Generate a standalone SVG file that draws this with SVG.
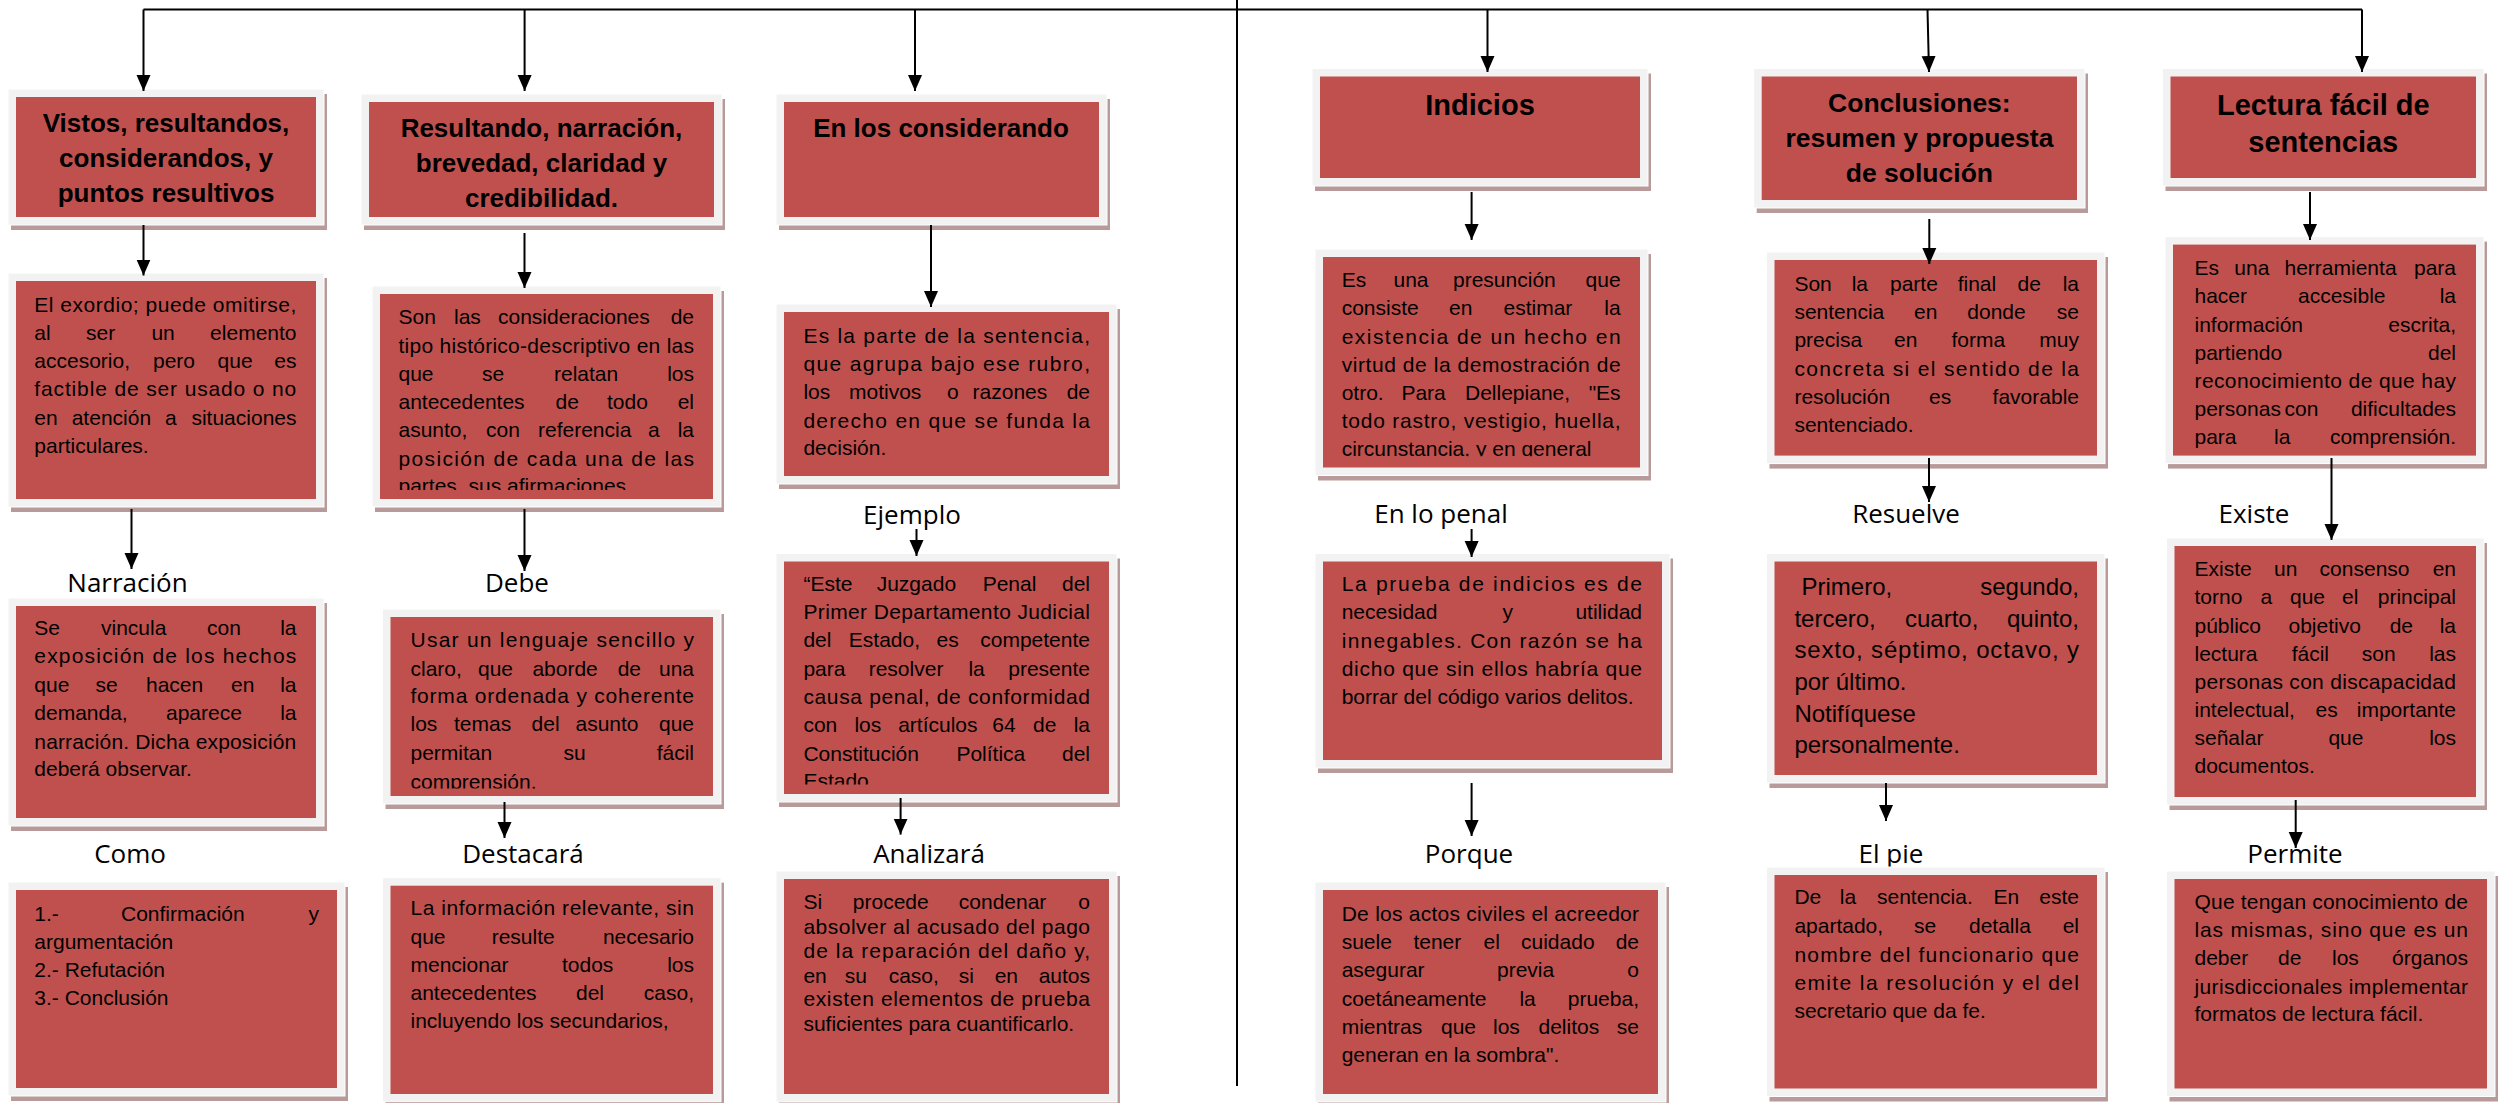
<svg xmlns="http://www.w3.org/2000/svg" width="2500" height="1103" viewBox="0 0 2500 1103">
<defs>
<style>
.sh{fill:#b99a9a}
.fr{fill:#f2f2f2;stroke:#ffffff;stroke-width:1}
.rd{fill:#c0504d}
.t{font-family:"Liberation Sans",Arial,sans-serif;font-size:21px;fill:#000}
.t24{font-family:"Liberation Sans",Arial,sans-serif;font-size:24px;fill:#000}
.e{text-anchor:end}
.h{font-family:"Liberation Sans",Arial,sans-serif;font-weight:bold;font-size:26px;fill:#000;text-anchor:middle}
.h29{font-family:"Liberation Sans",Arial,sans-serif;font-weight:bold;font-size:29px;fill:#000;text-anchor:middle}
.lab{font-family:"Open Sans","Liberation Sans",sans-serif;font-size:26px;fill:#000;text-anchor:middle}
.ln{stroke:#000;stroke-width:2;fill:none}
</style>
<marker id="ar" markerUnits="userSpaceOnUse" markerWidth="16" markerHeight="16" viewBox="0 -8 16 16" refX="16" refY="0" orient="auto">
<path d="M0,-7 L16,0 L0,7 z" fill="#000"/>
</marker>
<clipPath id="cB2"><rect x="370" y="280" width="350" height="210"/></clipPath>
<clipPath id="cC2"><rect x="380" y="610" width="340" height="178.5"/></clipPath>
<clipPath id="cC3"><rect x="780" y="555" width="340" height="229.6"/></clipPath>
<clipPath id="cS1"><rect x="1320" y="250" width="330" height="206.3"/></clipPath>
</defs>

<g id="labels">
<text class="lab" x="127.5" y="592">Narración</text>
<text class="lab" x="517" y="592">Debe</text>
<text class="lab" x="912" y="524">Ejemplo</text>
<text class="lab" x="130" y="863">Como</text>
<text class="lab" x="523" y="863">Destacará</text>
<text class="lab" x="929" y="863">Analizará</text>
<text class="lab" x="1441" y="523">En lo penal</text>
<text class="lab" x="1906" y="523">Resuelve</text>
<text class="lab" x="2254" y="523">Existe</text>
<text class="lab" x="1469" y="863">Porque</text>
<text class="lab" x="1891" y="863">El pie</text>
<text class="lab" x="2295" y="863">Permite</text>
</g>

<g id="nodeA1">
<rect class="sh" x="11" y="94" width="316" height="136"/>
<rect class="fr" x="8" y="89" width="316" height="136"/>
<rect class="rd" x="16" y="97" width="300" height="120"/>
<text class="h" x="166" y="132">Vistos, resultandos,</text>
<text class="h" x="166" y="167">considerandos, y</text>
<text class="h" x="166" y="202">puntos resultivos</text>
</g>

<g id="nodeA2">
<rect class="sh" x="364" y="99" width="361" height="131"/>
<rect class="fr" x="361" y="94" width="361" height="131"/>
<rect class="rd" x="369" y="102" width="345" height="115"/>
<text class="h" x="541.5" y="137">Resultando, narración,</text>
<text class="h" x="541.5" y="172">brevedad, claridad y</text>
<text class="h" x="541.5" y="207">credibilidad.</text>
</g>

<g id="nodeA3">
<rect class="sh" x="779" y="99" width="331" height="131"/>
<rect class="fr" x="776" y="94" width="331" height="131"/>
<rect class="rd" x="784" y="102" width="315" height="115"/>
<text class="h" x="941" y="137">En los  considerando</text>
</g>

<g id="nodeB1">
<rect class="sh" x="11" y="278" width="316" height="234"/>
<rect class="fr" x="8" y="273" width="316" height="234"/>
<rect class="rd" x="16" y="281" width="300" height="218"/>
<text class="t" x="34.3" y="312" textLength="262" lengthAdjust="spacing">El exordio;  puede omitirse,</text>
<text class="t" y="340"><tspan x="34.3">al</tspan><tspan x="86">ser</tspan><tspan x="151.4">un</tspan><tspan x="296.5" class="e">elemento</tspan></text>
<text class="t" y="368"><tspan x="34.3">accesorio,</tspan><tspan x="153">pero</tspan><tspan x="217.6">que</tspan><tspan x="296.5" class="e">es</tspan></text>
<text class="t" x="34.3" y="396" textLength="262" lengthAdjust="spacing">factible de ser usado o no</text>
<text class="t" y="425"><tspan x="34.3">en</tspan><tspan x="71.7">atención</tspan><tspan x="165">a</tspan><tspan x="296.5" class="e">situaciones</tspan></text>
<text class="t" x="34.3" y="453">particulares.</text>
</g>

<g id="nodeB2">
<rect class="sh" x="375" y="291" width="349" height="221"/>
<rect class="fr" x="372" y="286" width="349" height="221"/>
<rect class="rd" x="380" y="294" width="333" height="205"/>
<g clip-path="url(#cB2)">
<text class="t" y="324"><tspan x="398.5">Son</tspan><tspan x="454">las</tspan><tspan x="498">consideraciones</tspan><tspan x="694" class="e">de</tspan></text>
<text class="t" x="398.5" y="353" textLength="295.5" lengthAdjust="spacing">tipo histórico-descriptivo en las</text>
<text class="t" y="381"><tspan x="398.5">que</tspan><tspan x="482">se</tspan><tspan x="554">relatan</tspan><tspan x="694" class="e">los</tspan></text>
<text class="t" y="409"><tspan x="398.5">antecedentes</tspan><tspan x="555.5">de</tspan><tspan x="607">todo</tspan><tspan x="694" class="e">el</tspan></text>
<text class="t" y="437"><tspan x="398.5">asunto,</tspan><tspan x="486">con</tspan><tspan x="538">referencia</tspan><tspan x="648">a</tspan><tspan x="694" class="e">la</tspan></text>
<text class="t" x="398.5" y="466" textLength="295.5" lengthAdjust="spacing">posición de cada una de las</text>
<text class="t" x="398.5" y="493">partes, sus afirmaciones</text>
</g>
</g>

<g id="nodeB3">
<rect class="sh" x="779" y="309" width="341" height="180"/>
<rect class="fr" x="776" y="304" width="341" height="180"/>
<rect class="rd" x="784" y="312" width="325" height="164"/>
<text class="t" x="803.4" y="343" textLength="286.6" lengthAdjust="spacing">Es la parte de la sentencia,</text>
<text class="t" x="803.4" y="371" textLength="286.6" lengthAdjust="spacing">que agrupa bajo ese rubro,</text>
<text class="t" y="399"><tspan x="803.4">los</tspan><tspan x="849">motivos</tspan><tspan x="947">o</tspan><tspan x="972.6">razones</tspan><tspan x="1090" class="e">de</tspan></text>
<text class="t" x="803.4" y="427.5" textLength="286.6" lengthAdjust="spacing">derecho en que se funda la</text>
<text class="t" x="803.4" y="454.5">decisión.</text>
</g>

<g id="nodeC1">
<rect class="sh" x="11" y="603" width="316" height="228"/>
<rect class="fr" x="8" y="598" width="316" height="228"/>
<rect class="rd" x="16" y="606" width="300" height="212"/>
<text class="t" y="635"><tspan x="34.3">Se</tspan><tspan x="101">vincula</tspan><tspan x="207">con</tspan><tspan x="296.5" class="e">la</tspan></text>
<text class="t" x="34.3" y="663" textLength="262" lengthAdjust="spacing">exposición de los hechos</text>
<text class="t" y="691.6"><tspan x="34.3">que</tspan><tspan x="95.6">se</tspan><tspan x="146">hacen</tspan><tspan x="231">en</tspan><tspan x="296.5" class="e">la</tspan></text>
<text class="t" y="719.7"><tspan x="34.3">demanda,</tspan><tspan x="166">aparece</tspan><tspan x="296.5" class="e">la</tspan></text>
<text class="t" x="34.3" y="748.5" textLength="262" lengthAdjust="spacing">narración. Dicha exposición</text>
<text class="t" x="34.3" y="776">deberá observar.</text>
</g>

<g id="nodeC2">
<rect class="sh" x="385.5" y="614" width="338.5" height="195"/>
<rect class="fr" x="382.5" y="609" width="338.5" height="195"/>
<rect class="rd" x="390.5" y="617" width="322.5" height="179"/>
<g clip-path="url(#cC2)">
<text class="t" x="410.5" y="647" textLength="283.5" lengthAdjust="spacing">Usar un lenguaje sencillo y</text>
<text class="t" y="675.5"><tspan x="410.5">claro,</tspan><tspan x="478">que</tspan><tspan x="532.4">aborde</tspan><tspan x="617.7">de</tspan><tspan x="694" class="e">una</tspan></text>
<text class="t" x="410.5" y="703" textLength="283.5" lengthAdjust="spacing">forma ordenada y coherente</text>
<text class="t" y="731"><tspan x="410.5">los</tspan><tspan x="454">temas</tspan><tspan x="531.6">del</tspan><tspan x="575.5">asunto</tspan><tspan x="694" class="e">que</tspan></text>
<text class="t" y="760"><tspan x="410.5">permitan</tspan><tspan x="563.5">su</tspan><tspan x="694" class="e">fácil</tspan></text>
<text class="t" x="410.5" y="789">comprensión.</text>
</g>
</g>

<g id="nodeC3">
<rect class="sh" x="779" y="558.5" width="341" height="248.5"/>
<rect class="fr" x="776" y="553.5" width="341" height="248.5"/>
<rect class="rd" x="784" y="561.5" width="325" height="232.5"/>
<g clip-path="url(#cC3)">
<text class="t" y="591"><tspan x="803.4">“Este</tspan><tspan x="876.7">Juzgado</tspan><tspan x="982.7">Penal</tspan><tspan x="1090" class="e">del</tspan></text>
<text class="t" x="803.4" y="618.5" textLength="286.6" lengthAdjust="spacing">Primer Departamento Judicial</text>
<text class="t" y="647"><tspan x="803.4">del</tspan><tspan x="848.8">Estado,</tspan><tspan x="936.5">es</tspan><tspan x="1090" class="e">competente</tspan></text>
<text class="t" y="676"><tspan x="803.4">para</tspan><tspan x="868.7">resolver</tspan><tspan x="968.4">la</tspan><tspan x="1090" class="e">presente</tspan></text>
<text class="t" x="803.4" y="704" textLength="286.6" lengthAdjust="spacing">causa penal, de conformidad</text>
<text class="t" y="732"><tspan x="803.4">con</tspan><tspan x="854.4">los</tspan><tspan x="898.2">artículos</tspan><tspan x="992.3">64</tspan><tspan x="1033">de</tspan><tspan x="1090" class="e">la</tspan></text>
<text class="t" y="761"><tspan x="803.4">Constitución</tspan><tspan x="956.4">Política</tspan><tspan x="1090" class="e">del</tspan></text>
<text class="t" x="803.4" y="788">Estado</text>
</g>
</g>

<g id="nodeD1">
<rect class="sh" x="11" y="887" width="337" height="214"/>
<rect class="fr" x="8" y="882" width="337" height="214"/>
<rect class="rd" x="16" y="890" width="321" height="198"/>
<text class="t" y="920.5"><tspan x="34.3">1.-</tspan><tspan x="121">Confirmación</tspan><tspan x="319" class="e">y</tspan></text>
<text class="t" x="34.3" y="948.5">argumentación</text>
<text class="t" x="34.3" y="977">2.- Refutación</text>
<text class="t" x="34.3" y="1005">3.- Conclusión</text>
</g>

<g id="nodeD2">
<rect class="sh" x="385.5" y="882.7" width="338.5" height="224"/>
<rect class="fr" x="382.5" y="877.7" width="338.5" height="224"/>
<rect class="rd" x="390.5" y="885.7" width="322.5" height="208.3"/>
<text class="t" x="410.5" y="915" textLength="283.5" lengthAdjust="spacing">La información relevante, sin</text>
<text class="t" y="943.5"><tspan x="410.5">que</tspan><tspan x="491.7">resulte</tspan><tspan x="694" class="e">necesario</tspan></text>
<text class="t" y="972"><tspan x="410.5">mencionar</tspan><tspan x="562">todos</tspan><tspan x="694" class="e">los</tspan></text>
<text class="t" y="1000"><tspan x="410.5">antecedentes</tspan><tspan x="576">del</tspan><tspan x="694" class="e">caso,</tspan></text>
<text class="t" x="410.5" y="1028">incluyendo los secundarios,</text>
</g>

<g id="nodeD3">
<rect class="sh" x="779" y="876" width="341" height="231"/>
<rect class="fr" x="776" y="871" width="341" height="231"/>
<rect class="rd" x="784" y="879" width="325" height="215"/>
<text class="t" y="909"><tspan x="803.4">Si</tspan><tspan x="852.8">procede</tspan><tspan x="958.8">condenar</tspan><tspan x="1090" class="e">o</tspan></text>
<text class="t" x="803.4" y="934" textLength="286.6" lengthAdjust="spacing">absolver al acusado del pago</text>
<text class="t" x="803.4" y="958" textLength="286.6" lengthAdjust="spacing">de la reparación del daño y,</text>
<text class="t" y="983"><tspan x="803.4">en</tspan><tspan x="844.8">su</tspan><tspan x="888.7">caso,</tspan><tspan x="958.8">si</tspan><tspan x="994.7">en</tspan><tspan x="1090" class="e">autos</tspan></text>
<text class="t" x="803.4" y="1006" textLength="286.6" lengthAdjust="spacing">existen elementos de prueba</text>
<text class="t" x="803.4" y="1031">suficientes para cuantificarlo.</text>
</g>

<g id="nodeR1">
<rect class="sh" x="1315" y="73.5" width="336" height="117.5"/>
<rect class="fr" x="1312" y="68.5" width="336" height="117.5"/>
<rect class="rd" x="1320" y="76.5" width="320" height="101.5"/>
<text class="h29" x="1480" y="115">Indicios</text>
</g>

<g id="nodeR2">
<rect class="sh" x="1756.7" y="73.5" width="331.3" height="139.5"/>
<rect class="fr" x="1753.7" y="68.5" width="331.3" height="139.5"/>
<rect class="rd" x="1761.7" y="76.5" width="315.3" height="123.5"/>
<text class="h" x="1919.4" y="112" style="font-size:26.5px">Conclusiones:</text>
<text class="h" x="1919.4" y="147" style="font-size:26.5px">resumen y propuesta</text>
<text class="h" x="1919.4" y="182" style="font-size:26.5px">de solución</text>
</g>

<g id="nodeR3">
<rect class="sh" x="2165.5" y="73.5" width="321.5" height="117.5"/>
<rect class="fr" x="2162.5" y="68.5" width="321.5" height="117.5"/>
<rect class="rd" x="2170.5" y="76.5" width="305.5" height="101.5"/>
<text class="h29" x="2323.3" y="115">Lectura fácil de</text>
<text class="h29" x="2323.3" y="152">sentencias</text>
</g>

<g id="nodeS1">
<rect class="sh" x="1318" y="254" width="333" height="226.5"/>
<rect class="fr" x="1315" y="249" width="333" height="226.5"/>
<rect class="rd" x="1323" y="257" width="317" height="210.5"/>
<g clip-path="url(#cS1)">
<text class="t" y="287"><tspan x="1341.7">Es</tspan><tspan x="1393.5">una</tspan><tspan x="1453">presunción</tspan><tspan x="1620.6" class="e">que</tspan></text>
<text class="t" y="315"><tspan x="1341.7">consiste</tspan><tspan x="1449">en</tspan><tspan x="1503.5">estimar</tspan><tspan x="1620.6" class="e">la</tspan></text>
<text class="t" x="1341.7" y="344" textLength="278.9" lengthAdjust="spacing">existencia de un hecho en</text>
<text class="t" x="1341.7" y="372" textLength="278.9" lengthAdjust="spacing">virtud de la demostración de</text>
<text class="t" y="400"><tspan x="1341.7">otro.</tspan><tspan x="1401.4">Para</tspan><tspan x="1465">Dellepiane,</tspan><tspan x="1620.6" class="e">"Es</tspan></text>
<text class="t" x="1341.7" y="428" textLength="278.9" lengthAdjust="spacing">todo rastro, vestigio, huella,</text>
<text class="t" x="1341.7" y="456">circunstancia, y en general</text>
</g>
</g>

<g id="nodeS2">
<rect class="sh" x="1769.5" y="257" width="338.5" height="211.6"/>
<rect class="fr" x="1766.5" y="252" width="338.5" height="211.6"/>
<rect class="rd" x="1774.5" y="260" width="322.5" height="195.6"/>
<text class="t" y="290.6"><tspan x="1794.4">Son</tspan><tspan x="1851.7">la</tspan><tspan x="1890">parte</tspan><tspan x="1957.7">final</tspan><tspan x="2017.5">de</tspan><tspan x="2079" class="e">la</tspan></text>
<text class="t" y="318.7"><tspan x="1794.4">sentencia</tspan><tspan x="1914">en</tspan><tspan x="1967.3">donde</tspan><tspan x="2079" class="e">se</tspan></text>
<text class="t" y="346.8"><tspan x="1794.4">precisa</tspan><tspan x="1894">en</tspan><tspan x="1951.4">forma</tspan><tspan x="2079" class="e">muy</tspan></text>
<text class="t" x="1794.4" y="375.6" textLength="284.6" lengthAdjust="spacing">concreta si el sentido de la</text>
<text class="t" y="403.6"><tspan x="1794.4">resolución</tspan><tspan x="1929">es</tspan><tspan x="2079" class="e">favorable</tspan></text>
<text class="t" x="1794.4" y="431.7">sentenciado.</text>
</g>

<g id="nodeS3">
<rect class="sh" x="2168" y="241.6" width="319" height="227"/>
<rect class="fr" x="2165" y="236.6" width="319" height="227"/>
<rect class="rd" x="2173" y="244.6" width="303" height="211"/>
<text class="t" y="274.5"><tspan x="2194.5">Es</tspan><tspan x="2234.3">una</tspan><tspan x="2284.5">herramienta</tspan><tspan x="2456" class="e">para</tspan></text>
<text class="t" y="302.5"><tspan x="2194.5">hacer</tspan><tspan x="2298">accesible</tspan><tspan x="2456" class="e">la</tspan></text>
<text class="t" y="331.7"><tspan x="2194.5">información</tspan><tspan x="2456" class="e">escrita,</tspan></text>
<text class="t" y="359.8"><tspan x="2194.5">partiendo</tspan><tspan x="2456" class="e">del</tspan></text>
<text class="t" x="2194.5" y="387.8" textLength="261.5" lengthAdjust="spacing">reconocimiento de que hay</text>
<text class="t" y="416"><tspan x="2194.5">personas</tspan><tspan x="2284.5">con</tspan><tspan x="2456" class="e">dificultades</tspan></text>
<text class="t" y="444"><tspan x="2194.5">para</tspan><tspan x="2274">la</tspan><tspan x="2456" class="e">comprensión.</tspan></text>
</g>

<g id="nodeT1">
<rect class="sh" x="1318" y="558.5" width="355" height="214.5"/>
<rect class="fr" x="1315" y="553.5" width="355" height="214.5"/>
<rect class="rd" x="1323" y="561.5" width="339" height="198.5"/>
<text class="t" x="1341.7" y="591" textLength="300.3" lengthAdjust="spacing">La prueba de indicios es de</text>
<text class="t" y="619"><tspan x="1341.7">necesidad</tspan><tspan x="1502.6">y</tspan><tspan x="1642" class="e">utilidad</tspan></text>
<text class="t" x="1341.7" y="648" textLength="300.3" lengthAdjust="spacing">innegables. Con razón se ha</text>
<text class="t" x="1341.7" y="676" textLength="300.3" lengthAdjust="spacing">dicho que sin ellos habría que</text>
<text class="t" x="1341.7" y="704">borrar del código varios delitos.</text>
</g>

<g id="nodeT2">
<rect class="sh" x="1769.5" y="558.5" width="338.5" height="229.5"/>
<rect class="fr" x="1766.5" y="553.5" width="338.5" height="229.5"/>
<rect class="rd" x="1774.5" y="561.5" width="322.5" height="213.5"/>
<text class="t24" y="594.5"><tspan x="1801.5">Primero,</tspan><tspan x="2079" class="e">segundo,</tspan></text>
<text class="t24" y="626.5"><tspan x="1794.4">tercero,</tspan><tspan x="1905">cuarto,</tspan><tspan x="2079" class="e">quinto,</tspan></text>
<text class="t24" x="1794.4" y="658" textLength="284.6" lengthAdjust="spacing">sexto, séptimo, octavo, y</text>
<text class="t24" x="1794.4" y="689.5">por último.</text>
<text class="t24" x="1794.4" y="721.5">Notifíquese</text>
<text class="t24" x="1794.4" y="753">personalmente.</text>
</g>

<g id="nodeT3">
<rect class="sh" x="2169.5" y="543" width="317.5" height="267"/>
<rect class="fr" x="2166.5" y="538" width="317.5" height="267"/>
<rect class="rd" x="2174.5" y="546" width="301.5" height="251"/>
<text class="t" y="576"><tspan x="2194.5">Existe</tspan><tspan x="2274">un</tspan><tspan x="2319.6">consenso</tspan><tspan x="2456" class="e">en</tspan></text>
<text class="t" y="604"><tspan x="2194.5">torno</tspan><tspan x="2260.6">a</tspan><tspan x="2290">que</tspan><tspan x="2342">el</tspan><tspan x="2456" class="e">principal</tspan></text>
<text class="t" y="633"><tspan x="2194.5">público</tspan><tspan x="2288.5">objetivo</tspan><tspan x="2389.7">de</tspan><tspan x="2456" class="e">la</tspan></text>
<text class="t" y="661"><tspan x="2194.5">lectura</tspan><tspan x="2291.7">fácil</tspan><tspan x="2361.8">son</tspan><tspan x="2456" class="e">las</tspan></text>
<text class="t" x="2194.5" y="689" textLength="261.5" lengthAdjust="spacing">personas con discapacidad</text>
<text class="t" y="717"><tspan x="2194.5">intelectual,</tspan><tspan x="2315.6">es</tspan><tspan x="2456" class="e">importante</tspan></text>
<text class="t" y="745"><tspan x="2194.5">señalar</tspan><tspan x="2328.4">que</tspan><tspan x="2456" class="e">los</tspan></text>
<text class="t" x="2194.5" y="773">documentos.</text>
</g>

<g id="nodeU1">
<rect class="sh" x="1318" y="887" width="351" height="220"/>
<rect class="fr" x="1315" y="882" width="351" height="220"/>
<rect class="rd" x="1323" y="890" width="335" height="204"/>
<text class="t" x="1341.7" y="920.5" textLength="297.3" lengthAdjust="spacing">De los actos civiles el acreedor</text>
<text class="t" y="948.5"><tspan x="1341.7">suele</tspan><tspan x="1413.4">tener</tspan><tspan x="1483.5">el</tspan><tspan x="1521">cuidado</tspan><tspan x="1639" class="e">de</tspan></text>
<text class="t" y="977"><tspan x="1341.7">asegurar</tspan><tspan x="1497">previa</tspan><tspan x="1639" class="e">o</tspan></text>
<text class="t" y="1006"><tspan x="1341.7">coetáneamente</tspan><tspan x="1519.4">la</tspan><tspan x="1639" class="e">prueba,</tspan></text>
<text class="t" y="1034"><tspan x="1341.7">mientras</tspan><tspan x="1441">que</tspan><tspan x="1493">los</tspan><tspan x="1538.5">delitos</tspan><tspan x="1639" class="e">se</tspan></text>
<text class="t" x="1341.7" y="1061.6">generan en la sombra".</text>
</g>

<g id="nodeU2">
<rect class="sh" x="1769.5" y="872" width="338.5" height="229.5"/>
<rect class="fr" x="1766.5" y="867" width="338.5" height="229.5"/>
<rect class="rd" x="1774.5" y="875" width="322.5" height="213.5"/>
<text class="t" y="904"><tspan x="1794.4">De</tspan><tspan x="1839.8">la</tspan><tspan x="1877">sentencia.</tspan><tspan x="1993.6">En</tspan><tspan x="2079" class="e">este</tspan></text>
<text class="t" y="933"><tspan x="1794.4">apartado,</tspan><tspan x="1914">se</tspan><tspan x="1969">detalla</tspan><tspan x="2079" class="e">el</tspan></text>
<text class="t" x="1794.4" y="961.6" textLength="284.6" lengthAdjust="spacing">nombre del funcionario que</text>
<text class="t" x="1794.4" y="989.7" textLength="284.6" lengthAdjust="spacing">emite la resolución y el del</text>
<text class="t" x="1794.4" y="1017.7">secretario que da fe.</text>
</g>

<g id="nodeU3">
<rect class="sh" x="2169.5" y="876" width="328.5" height="225.5"/>
<rect class="fr" x="2166.5" y="871" width="328.5" height="225.5"/>
<rect class="rd" x="2174.5" y="879" width="312.5" height="209.5"/>
<text class="t" x="2194.5" y="909" textLength="273.5" lengthAdjust="spacing">Que tengan conocimiento de</text>
<text class="t" x="2194.5" y="937" textLength="273.5" lengthAdjust="spacing">las mismas, sino que es un</text>
<text class="t" y="965"><tspan x="2194.5">deber</tspan><tspan x="2278">de</tspan><tspan x="2332">los</tspan><tspan x="2468" class="e">órganos</tspan></text>
<text class="t" x="2194.5" y="993.5" textLength="273.5" lengthAdjust="spacing">jurisdiccionales implementar</text>
<text class="t" x="2194.5" y="1021">formatos de lectura fácil.</text>
</g>

<g id="connectors">
<path class="ln" d="M143.5,9.5 H2362" stroke-width="2.5"/>
<path class="ln" d="M1237,0 V1086"/>
<path class="ln" d="M143.5,9.5 V91" marker-end="url(#ar)"/>
<path class="ln" d="M524.6,9.5 V91" marker-end="url(#ar)"/>
<path class="ln" d="M915,9.5 V91" marker-end="url(#ar)"/>
<path class="ln" d="M1487.5,9.5 V72" marker-end="url(#ar)"/>
<path class="ln" d="M1927.5,9.5 L1929,72" marker-end="url(#ar)"/>
<path class="ln" d="M2362,9.5 V72" marker-end="url(#ar)"/>
<path class="ln" d="M143.5,225 V275.5" marker-end="url(#ar)"/>
<path class="ln" d="M524.5,233 V288" marker-end="url(#ar)"/>
<path class="ln" d="M931,225 V307" marker-end="url(#ar)"/>
<path class="ln" d="M131.5,509 V569" marker-end="url(#ar)"/>
<path class="ln" d="M524.5,509 V571" marker-end="url(#ar)"/>
<path class="ln" d="M916.5,529 V556" marker-end="url(#ar)"/>
<path class="ln" d="M504.5,802 V838" marker-end="url(#ar)"/>
<path class="ln" d="M900.6,798 V834.6" marker-end="url(#ar)"/>
<path class="ln" d="M1471.6,192 V240" marker-end="url(#ar)"/>
<path class="ln" d="M1929.3,219 V264" marker-end="url(#ar)"/>
<path class="ln" d="M2310,192 V240" marker-end="url(#ar)"/>
<path class="ln" d="M1929,458 V502" marker-end="url(#ar)"/>
<path class="ln" d="M2331.5,458 V540" marker-end="url(#ar)"/>
<path class="ln" d="M1471.6,529 V557" marker-end="url(#ar)"/>
<path class="ln" d="M1471.6,783 V836" marker-end="url(#ar)"/>
<path class="ln" d="M1886,783 V821" marker-end="url(#ar)"/>
<path class="ln" d="M2295.7,800 V848" marker-end="url(#ar)"/>
</g>
</svg>
